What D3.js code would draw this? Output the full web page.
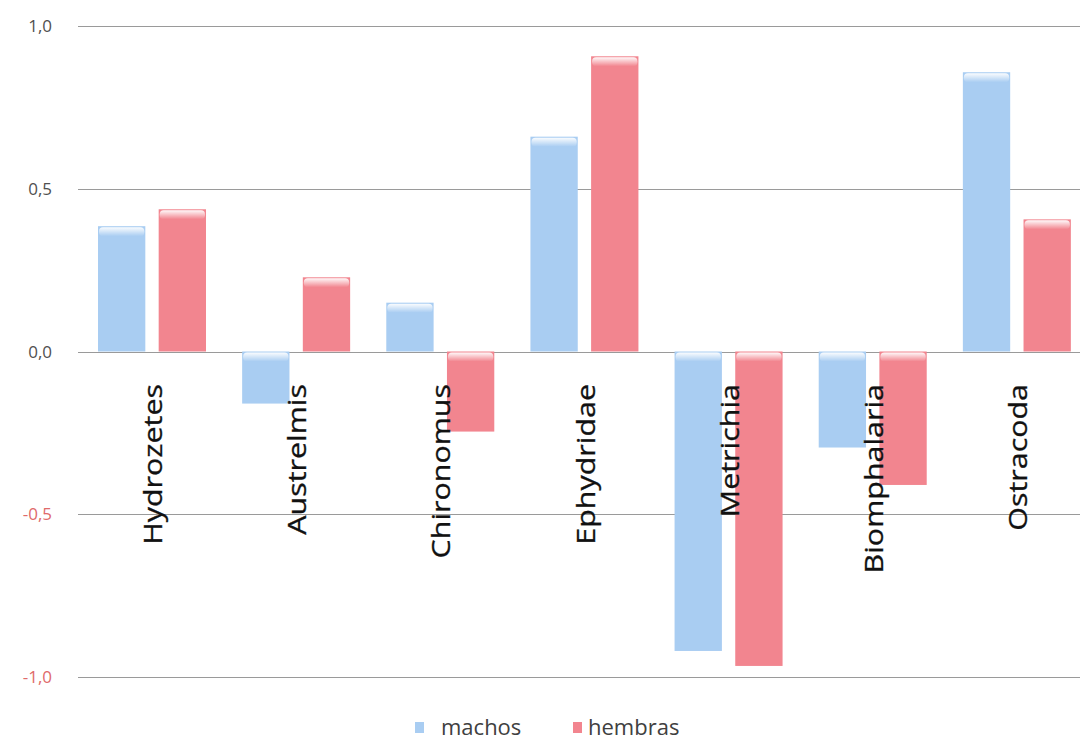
<!DOCTYPE html>
<html>
<head>
<meta charset="utf-8">
<script src="https://cdn.jsdelivr.net/npm/d3@7"></script>
<style>
  body { margin: 0; background: #fff; }
  text { font-family: "Open Sans", "DejaVu Sans", sans-serif; }
</style>
</head>
<body>
<svg id="chart" width="1080" height="741"></svg>
<script>
// data
var categories = ["Hydrozetes", "Austrelmis", "Chironomus", "Ephydridae", "Metrichia", "Biomphalaria", "Ostracoda"];
var machos  = [0.385, -0.16, 0.15, 0.66, -0.92, -0.295, 0.858];
var hembras = [0.437, 0.228, -0.246, 0.907, -0.966, -0.41, 0.406];
var seriesNames = ["machos", "hembras"];
var yTicks = [-1, -0.5, 0, 0.5, 1];

var colors = {machos: "#a9cdf2", hembras: "#f2858f"};

var svg = d3.select("#chart");

var xScale = d3.scaleBand().domain(categories).range([80, 1089]);
var xInner = d3.scaleBand().domain(seriesNames).range([18, 126]).paddingInner(0.22);
var yScale = d3.scaleLinear().domain([-1, 1]).range([677, 26]);

// gradients for the glossy top of each bar
var defs = svg.append("defs");
seriesNames.forEach(function(s){
  var g = defs.append("linearGradient").attr("id", "hl-" + s)
    .attr("x1", 0).attr("y1", 0).attr("x2", 0).attr("y2", 1);
  g.append("stop").attr("offset", "0%").attr("stop-color", "#fff").attr("stop-opacity", 0.95);
  g.append("stop").attr("offset", "100%").attr("stop-color", "#fff").attr("stop-opacity", 0);
});

// gridlines
svg.append("g").selectAll("line")
  .data(yTicks)
  .enter().append("line")
  .attr("x1", 78).attr("x2", 1080)
  .attr("y1", function(d){ return Math.round(yScale(d)) + 0.5; })
  .attr("y2", function(d){ return Math.round(yScale(d)) + 0.5; })
  .attr("stroke", "#9a9a9a").attr("stroke-width", 1.2);

// y labels
svg.append("g").selectAll("text")
  .data(yTicks)
  .enter().append("text")
  .attr("x", 52)
  .attr("y", function(d){ return yScale(d) + 6; })
  .attr("text-anchor", "end")
  .attr("font-size", 17)
  .attr("fill", function(d){ return d < 0 ? "#e06a6a" : "#505050"; })
  .text(function(d){ return d3.format(".1f")(d).replace(".", ",").replace("\u2212", "-"); });

// bars
var rows = categories.map(function(c, i){
  return {cat: c, values: [{s: "machos", v: machos[i]}, {s: "hembras", v: hembras[i]}]};
});

var groups = svg.append("g").selectAll(".grp")
  .data(rows)
  .enter().append("g")
  .attr("class", "grp")
  .attr("transform", function(d){ return "translate(" + xScale(d.cat) + ",0)"; });

var bars = groups.selectAll(".bar")
  .data(function(d){ return d.values; })
  .enter().append("g").attr("class", "bar");

bars.append("rect")
  .attr("x", function(d){ return xInner(d.s); })
  .attr("width", xInner.bandwidth())
  .attr("y", function(d){ return yScale(Math.max(0, d.v)); })
  .attr("height", function(d){ return Math.abs(yScale(d.v) - yScale(0)); })
  .attr("fill", function(d){ return colors[d.s]; });

bars.append("rect")
  .attr("x", function(d){ return xInner(d.s) + 1; })
  .attr("width", xInner.bandwidth() - 2)
  .attr("y", function(d){ return yScale(Math.max(0, d.v)) + 1; })
  .attr("height", 9)
  .attr("rx", 4)
  .attr("fill", function(d){ return "url(#hl-" + d.s + ")"; });

// category labels, rotated
groups.append("text")
  .attr("transform", "translate(" + (xScale.bandwidth() / 2 + 10) + ",384) rotate(-90) scale(1.17,1)")
  .attr("text-anchor", "end")
  .attr("font-size", 26)
  .attr("fill", "#111")
  .attr("stroke", "#111").attr("stroke-width", 0.3)
  .text(function(d){ return d.cat; });

// legend
var legend = svg.append("g").attr("transform", "translate(0,728)");
var legendX = [415, 573];
var legendTextX = [441, 588];
seriesNames.forEach(function(s, i){
  legend.append("rect")
    .attr("x", legendX[i]).attr("y", -6)
    .attr("width", 9).attr("height", 11)
    .attr("fill", colors[s]);
  legend.append("text")
    .attr("x", legendTextX[i]).attr("y", 7)
    .attr("font-size", 22)
    .attr("fill", "#404040")
    .text(s);
});
</script>
</body>
</html>
